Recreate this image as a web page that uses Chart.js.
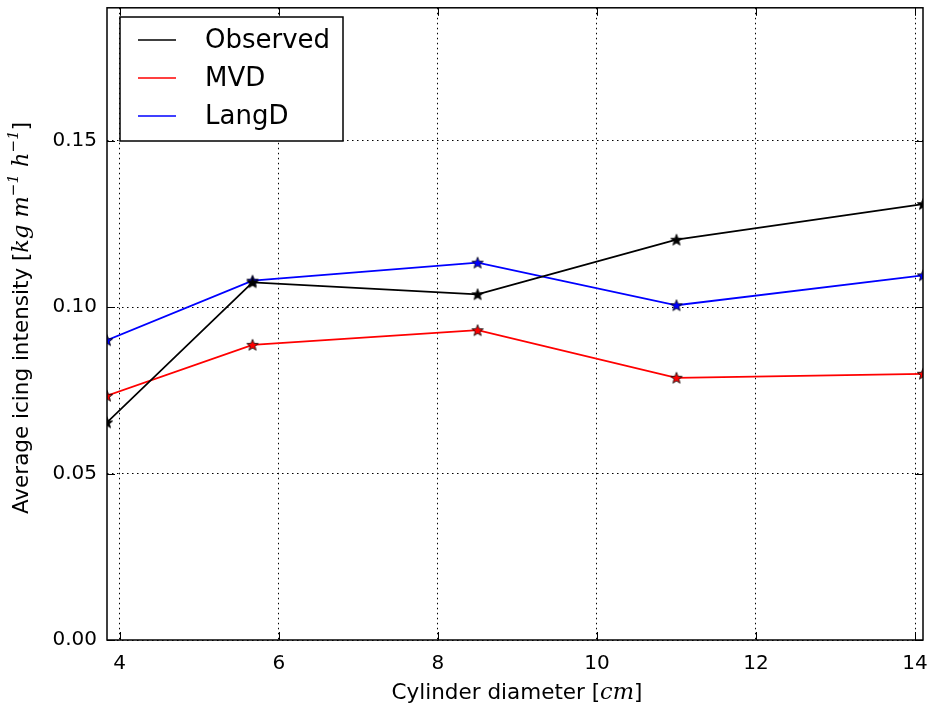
<!DOCTYPE html>
<html>
<head>
<meta charset="utf-8">
<script src="https://cdn.jsdelivr.net/npm/chart.js@4.4.1/dist/chart.umd.min.js"></script>
<style>
  html, body { margin: 0; padding: 0; background: #fff; }
  #wrap { width: 931px; height: 708px; }
</style>
</head>
<body>
<div id="wrap"><canvas id="myChart"></canvas></div>
<script>
// diametres des cylindres (cm)
const diameters = [3.84, 5.67, 8.5, 11.0, 14.1];
const observed = [0.0654, 0.1075, 0.1039, 0.1203, 0.1310];
const mvd = [0.0734, 0.0887, 0.0931, 0.0788, 0.0800];
const langD = [0.0901, 0.1080, 0.1134, 0.1006, 0.1096];
const xTicks = [4, 6, 8, 10, 12, 14];
const yTicks = [0.00, 0.05, 0.10, 0.15];
const seriesNames = ['Observed', 'MVD', 'LangD'];
const seriesColors = ['#000000', '#ff0000', '#0000ff'];

// étoile pleine avec bord noir, comme les marqueurs '*' de matplotlib
function makeStar(color) {
  const c = document.createElement('canvas');
  c.width = 14; c.height = 14;
  const g = c.getContext('2d');
  g.beginPath();
  for (let i = 0; i < 10; i++) {
    const r = i % 2 ? 2.6 : 6;
    const a = -Math.PI / 2 + i * Math.PI / 5;
    g.lineTo(7 + r * Math.cos(a), 7.5 + r * Math.sin(a));
  }
  g.closePath();
  g.fillStyle = color;
  g.fill();
  g.strokeStyle = '#000';
  g.lineWidth = 0.8;
  g.stroke();
  return c;
}

function toPoints(ys) {
  return diameters.map((x, i) => ({ x: x, y: ys[i] }));
}

const allSeries = [observed, mvd, langD];
const datasets = allSeries.map((ys, i) => ({
  label: seriesNames[i],
  data: toPoints(ys),
  borderColor: seriesColors[i],
  backgroundColor: seriesColors[i],
  borderWidth: 1.8,
  pointStyle: makeStar(seriesColors[i]),
  pointRadius: 6,
  tension: 0,
  clip: 0,
}));

const FONT = "'DejaVu Sans', sans-serif";

// texte avec morceaux en italique (notation math)
function drawRuns(ctx, runs, size) {
  let w = 0;
  runs.forEach(r => {
    ctx.font = r.font(size);
    w += ctx.measureText(r.t).width;
  });
  let x = -w / 2;
  runs.forEach(r => {
    ctx.font = r.font(size);
    ctx.fillText(r.t, x, r.dy || 0);
    x += ctx.measureText(r.t).width;
  });
}
const normal = s => s + 'px ' + FONT;
const ital = s => 'italic ' + (s + 1) + "px 'DejaVu Serif', serif";
const sup = s => 'italic ' + Math.round(s * 0.72) + "px 'DejaVu Serif', serif";

function noPad(s) {
  s.paddingTop = 0; s.paddingBottom = 0;
  s.paddingLeft = 0; s.paddingRight = 0;
}

const framePlugin = {
  id: 'frame',
  afterDraw(chart) {
    const ctx = chart.ctx;
    const a = chart.chartArea;
    const xs = chart.scales.x, ys = chart.scales.y;
    ctx.save();
    // ticks vers l'intérieur sur les 4 côtés
    ctx.strokeStyle = '#000';
    ctx.lineWidth = 1;
    ctx.beginPath();
    xTicks.forEach(v => {
      const px = Math.round(xs.getPixelForValue(v)) + 0.5;
      ctx.moveTo(px, a.bottom); ctx.lineTo(px, a.bottom - 8);
      ctx.moveTo(px, a.top); ctx.lineTo(px, a.top + 8);
    });
    yTicks.forEach(v => {
      const py = Math.round(ys.getPixelForValue(v)) + 0.5;
      ctx.moveTo(a.left, py); ctx.lineTo(a.left + 8, py);
      ctx.moveTo(a.right, py); ctx.lineTo(a.right - 8, py);
    });
    ctx.stroke();
    // cadre
    ctx.lineWidth = 1.5;
    ctx.strokeRect(a.left, a.top, a.right - a.left, a.bottom - a.top);

    // légende
    const lx = a.left + 13, ly = 17, lw = 223, lh = 124;
    ctx.fillStyle = '#fff';
    ctx.fillRect(lx, ly, lw, lh);
    ctx.lineWidth = 1.5;
    ctx.strokeRect(lx, ly, lw, lh);
    ctx.font = '26px ' + FONT;
    ctx.textBaseline = 'middle';
    chart.data.datasets.forEach((d, i) => {
      const y = ly + 23 + i * 38;
      ctx.strokeStyle = d.borderColor;
      ctx.lineWidth = 1.5;
      ctx.beginPath();
      ctx.moveTo(lx + 18, y); ctx.lineTo(lx + 56, y);
      ctx.stroke();
      ctx.fillStyle = '#000';
      ctx.fillText(d.label, lx + 85, y + 1);
    });

    // titres des axes
    ctx.fillStyle = '#000';
    ctx.textBaseline = 'middle';
    ctx.save();
    ctx.translate((a.left + a.right) / 2 + 2, 693);
    drawRuns(ctx, [
      { t: 'Cylinder diameter [', font: normal },
      { t: 'cm', font: ital },
      { t: ']', font: normal },
    ], 21.5);
    ctx.restore();
    ctx.save();
    ctx.translate(22, 318);
    ctx.rotate(-Math.PI / 2);
    drawRuns(ctx, [
      { t: 'Average icing intensity [', font: normal },
      { t: 'kg m', font: ital },
      { t: '\u22121', font: sup, dy: -8 },
      { t: ' h', font: ital },
      { t: '\u22121', font: sup, dy: -8 },
      { t: ']', font: normal },
    ], 21.5);
    ctx.restore();
    ctx.restore();
  }
};

const ctx = document.getElementById('myChart').getContext('2d');

const config = {
  type: 'line',
  data: { datasets: datasets },
  options: {
    responsive: true,
    maintainAspectRatio: false,
    animation: false,
    layout: { padding: { top: 0, right: 8, left: 0, bottom: 0 } },
    plugins: {
      legend: { display: false },
      tooltip: { enabled: false },
    },
    scales: {
      x: {
        type: 'linear',
        min: 3.84,
        max: 14.1,
        afterBuildTicks: s => { s.ticks = xTicks.map(v => ({ value: v })); },
        afterFit: s => { s.height = 68; noPad(s); },
        grid: {
          color: '#000',
          lineWidth: 1,
          drawTicks: false,
        },
        border: { display: false, dash: [1.5, 3.5] },
        ticks: {
          padding: 12,
          color: '#000',
          font: { family: FONT, size: 20 },
          maxRotation: 0,
          callback: v => String(v),
        },
      },
      y: {
        min: 0,
        max: 0.19,
        afterBuildTicks: s => { s.ticks = yTicks.map(v => ({ value: v })); },
        afterFit: s => { s.width = 107; noPad(s); },
        grid: {
          color: '#000',
          lineWidth: 1,
          drawTicks: false,
        },
        border: { display: false, dash: [1.5, 3.5] },
        ticks: {
          padding: 10,
          color: '#000',
          font: { family: FONT, size: 20 },
          callback: v => v.toFixed(2),
        },
      },
    },
  },
  plugins: [framePlugin],
};

const myChart = new Chart(ctx, config);
</script>
</body>
</html>
